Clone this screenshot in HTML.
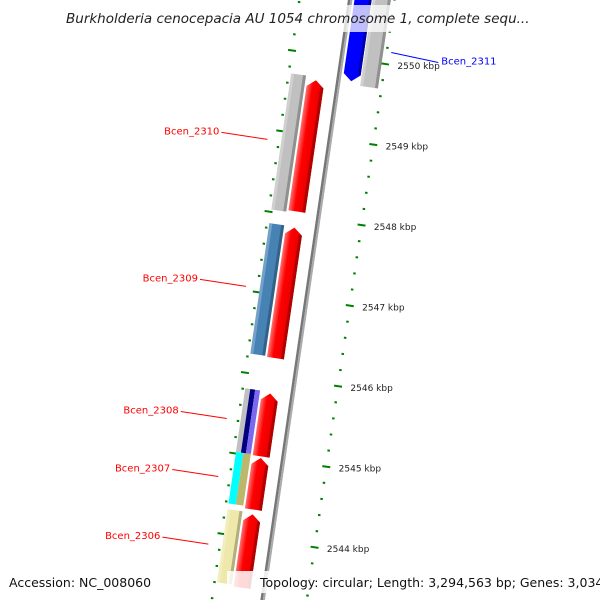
<!DOCTYPE html>
<html><head><meta charset="utf-8"><style>
body{margin:0;background:#fff}
svg{display:block}
text{font-family:"DejaVu Sans","Liberation Sans",sans-serif}
</style></head><body>
<svg id="map" width="600" height="600" viewBox="0 0 600 600">
<defs>
<linearGradient id="gr" x1="0" x2="1"><stop offset="0" stop-color="#ff7070"/><stop offset="0.35" stop-color="#ff0000"/><stop offset="0.8" stop-color="#ee0000"/><stop offset="1" stop-color="#a00000"/></linearGradient>
</defs>
<g id="rot"></g>
<g id="over"></g>
</svg>
<script>
// data
const geneNames = ["Bcen_2311","Bcen_2311","Bcen_2310","Bcen_2310","Bcen_2309","Bcen_2309","Bcen_2308","Bcen_2308","Bcen_2308","Bcen_2308","Bcen_2307","Bcen_2307","Bcen_2307","Bcen_2306","Bcen_2306"];
const geneStart = [2550.8,2550.8,2549.68,2549.72,2547.85,2547.86,2545.79,2545.81,2545.81,2545.81,2544.99,2545.02,2545.02,2544.29,2544.31];
const geneEnd   = [2549.73,2549.69,2548.05,2548.03,2546.23,2546.24,2545.01,2545.02,2545.02,2545.02,2544.35,2544.38,2544.38,2543.38,2543.40];
const geneTrack = ["r1","r2","f","o","f","o","f","oa","ob","oc","f","oa2","ob2","f","o"];
const geneColor = ["#0000ff","#c0c0c0","red","#c0c0c0","red","#4682b4","red","#c0c0c0","#000080","#7b68ee","red","#00ffff","#bdb76b","red","#eee8aa"];
const geneArrow = ["down","none","up","none","up","none","up","none","none","none","up","none","none","up","none"];
const labelNames = ["Bcen_2311","Bcen_2310","Bcen_2309","Bcen_2308","Bcen_2307","Bcen_2306"];
const labelColor = ["#0000ff","#ff0000","#ff0000","#ff0000","#ff0000","#ff0000"];
const labelKbp = [2550.15,2548.875,2547.05,2545.41,2544.69,2543.85];
const tickLabels = [2550,2549,2548,2547,2546,2545,2544];

const NS="http://www.w3.org/2000/svg";
const th=8.3*Math.PI/180, ox=342, oy=57.7, pxPerKbp=81.4;
const S=k=>(2550-k)*pxPerKbp;
const toScreen=(v,s)=>[ox+v*Math.cos(th)-s*Math.sin(th), oy+v*Math.sin(th)+s*Math.cos(th)];
const rotG=document.getElementById('rot'), overG=document.getElementById('over');
rotG.setAttribute('transform',`translate(${ox},${oy}) rotate(8.3)`);
function mk(p,tag,a){const e=document.createElementNS(NS,tag);for(const k in a)e.setAttribute(k,a[k]);p.appendChild(e);return e;}
const tracks={f:[-31,-14],o:[-48,-33],oa:[-48,-43],ob:[-43,-38],oc:[-38,-33],oa2:[-48,-40.5],ob2:[-40.5,-33],r1:[4,21],r2:[22,40]};

// backbone
const bb=mk(rotG,'rect',{x:-2.5,y:-120,width:2.5,height:800,fill:'#777'});


const bb2=mk(rotG,'rect',{x:0,y:-120,width:2,height:800,fill:'#aaa'});



// tick rings
for(let i=0;i<=45;i++){
  const k=2551.0-i*0.2; const s=S(k); const major=Math.abs(k-Math.round(k))<0.01;
  for(const v of [43.5,-50.5]){
    const w=major?8:2.5;
    const t=mk(rotG,'rect',{x:v-w/2,y:s-1,width:w,height:2,fill:'#008000'});
    
    
  }
}
// genes
for(let i=0;i<geneNames.length;i++){
  const [v0,v1]=tracks[geneTrack[i]]; const s0=S(geneStart[i]), s1=S(geneEnd[i]);
  const w=v1-v0, col=geneColor[i];
  const g=mk(rotG,'g',{});
  
  
  if(geneArrow[i]==='up'){
    const h=7;
    mk(g,'path',{d:`M${v0},${s1} L${v0},${s0+h} L${(v0+v1)/2},${s0} L${v1},${s0+h} L${v1},${s1} Z`,fill:'url(#gr)'});
    mk(g,'rect',{x:v1-3,y:s0+h,width:3,height:s1-s0-h,fill:'#b00000'});
  } else if(geneArrow[i]==='down'){
    const h=7;
    mk(g,'path',{d:`M${v0},${s0} L${v0},${s1-h} L${(v0+v1)/2},${s1} L${v1},${s1-h} L${v1},${s0} Z`,fill:col});
    mk(g,'rect',{x:v1-3,y:s0,width:3,height:s1-s0-h,fill:'#0000aa'});
  } else {
    mk(g,'rect',{x:v0,y:s0,width:w,height:s1-s0,fill:col});
    if(w>10){mk(g,'rect',{x:v1-3,y:s0,width:3,height:s1-s0,fill:'#000',opacity:0.25});
    mk(g,'rect',{x:v0,y:s0,width:3,height:s1-s0,fill:'#fff',opacity:0.25});}
  }
}
// tick labels
for(const k of tickLabels){
  const [x,y]=toScreen(56,S(k));
  const t=mk(overG,'text',{x:x,y:y+3,'font-size':9,fill:'#222'});
  t.textContent=k+' kbp';
  
  
}
// gene labels
for(let i=0;i<labelNames.length;i++){
  const g=mk(overG,'g',{});
  
  
  if(i===0){
    const [x,y]=toScreen(48,S(labelKbp[i]));
    mk(g,'line',{x1:x,y1:y,x2:x+47,y2:y+10,stroke:labelColor[i],'stroke-width':1});
    const t=mk(g,'text',{x:x+50,y:y+12,'font-size':10,fill:labelColor[i],'font-family':'DejaVu Sans Mono,monospace'});t.textContent=labelNames[i];
  } else {
    const [x,y]=toScreen(-62,S(labelKbp[i]));
    mk(g,'line',{x1:x,y1:y,x2:x-46,y2:y-7,stroke:labelColor[i],'stroke-width':1});
    const t=mk(g,'text',{x:x-48,y:y-5,'font-size':10,fill:labelColor[i],'text-anchor':'end','font-family':'DejaVu Sans Mono,monospace'});t.textContent=labelNames[i];
  }
}
// title and footer
const titleBack=mk(overG,'rect',{x:60,y:5,width:480,height:27,fill:'#fff',opacity:0.75});


const titleText=mk(overG,'text',{x:66,y:23,'font-size':13.5,'font-style':'italic',fill:'#222'});
titleText.textContent='Burkholderia cenocepacia AU 1054 chromosome 1, complete sequ...';


const footBack=mk(overG,'rect',{x:227,y:571,width:373,height:22,fill:'#fff',opacity:0.85});


const accLabel=mk(overG,'text',{x:9,y:587,'font-size':12.5,fill:'#111'});
accLabel.textContent='Accession: NC_008060';


const topoLabel=mk(overG,'text',{x:260,y:587,'font-size':12.5,fill:'#111'});
topoLabel.textContent='Topology: circular; Length: 3,294,563 bp; Genes: 3,034';


</script>
</body></html>
